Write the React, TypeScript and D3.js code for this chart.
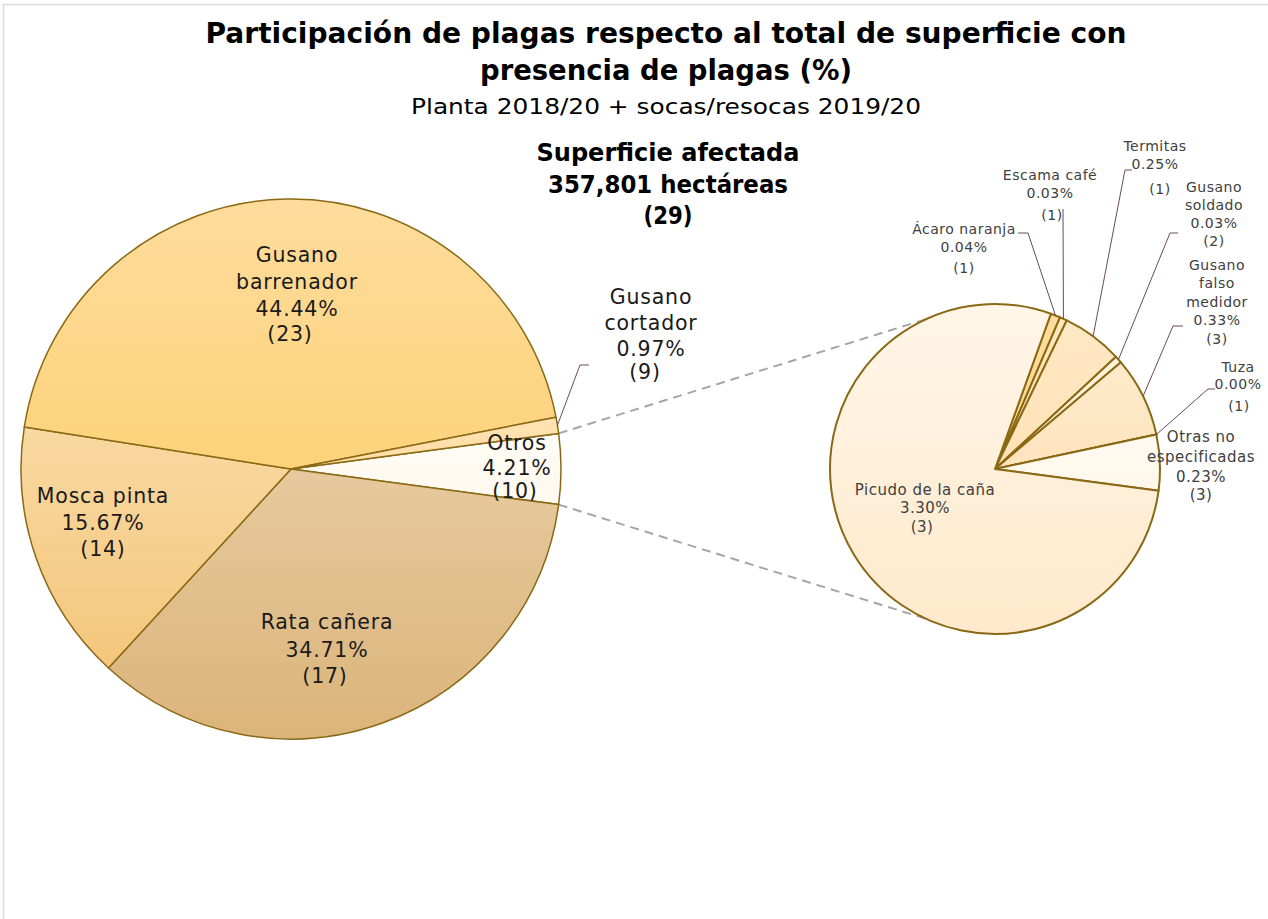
import * as d3 from "d3";

// main pie (clockwise, starting with the "Otros" slice centred on the right)
const mainLabels = ["Otros", "Rata cañera", "Mosca pinta", "Gusano barrenador", "Gusano cortador"];
const mainValues = [4.21, 34.71, 15.67, 44.44, 0.97];
const mainCounts = [10, 17, 14, 23, 9];

// secondary pie: breakdown of "Otros"
const subLabels = [
  "Ácaro naranja",
  "Escama café",
  "Termitas",
  "Gusano soldado",
  "Gusano falso medidor",
  "Tuza",
  "Otras no especificadas",
  "Picudo de la caña",
];
const subValues = [0.04, 0.03, 0.25, 0.03, 0.33, 0.0, 0.23, 3.3];
const subCounts = [1, 1, 1, 2, 3, 1, 3, 3];

const W = 1268;
const H = 919;
const FONT = "'DejaVu Sans', Verdana, sans-serif";
const STROKE = "#8a6914";

const main = { cx: 291, cy: 469, r: 270 };
const sub = { cx: 995, cy: 469, r: 165 };

// slice fills: [top, bottom] of a vertical gradient
const mainFills: Record<string, [string, string]> = {
  Otros: ["#fffdf7", "#fff9ee"],
  "Rata cañera": ["#e6c99d", "#dbb47a"],
  "Mosca pinta": ["#f9d9a2", "#f4c67b"],
  "Gusano barrenador": ["#fedc9c", "#fdd27a"],
  "Gusano cortador": ["#ffe3b3", "#ffdca3"],
};
const subFills: Record<string, [string, string]> = {
  "Ácaro naranja": ["#ffdc9d", "#ffd68f"],
  "Escama café": ["#ffe7bd", "#ffe2b0"],
  Termitas: ["#ffe8c4", "#ffe2b6"],
  "Gusano soldado": ["#fff3df", "#ffefd4"],
  "Gusano falso medidor": ["#feeacb", "#fee4bd"],
  Tuza: ["#fff0d8", "#fff0d8"],
  "Otras no especificadas": ["#fffaf1", "#fff7ea"],
  "Picudo de la caña": ["#fff6e8", "#ffe9cc"],
};

// label text layout
type LabelLayout = { x: number; ys: number[]; name: string[]; dx?: number[]; elbow?: [number, number]; tail?: number };
const mainLayout: Record<string, LabelLayout> = {
  "Gusano barrenador": { x: 297, ys: [255, 282, 309, 334], name: ["Gusano", "barrenador"], dx: [0, 0, 0, -7] },
  "Mosca pinta": { x: 103, ys: [496, 523, 549], name: ["Mosca pinta"] },
  "Rata cañera": { x: 327, ys: [622, 650, 676], name: ["Rata cañera"], dx: [0, 0, -2] },
  Otros: { x: 517, ys: [443, 468, 491], name: ["Otros"], dx: [0, 0, -2] },
  "Gusano cortador": { x: 651, ys: [297, 323, 349, 372], name: ["Gusano", "cortador"], dx: [0, 0, 0, -6], elbow: [580, 365], tail: 9 },
};
const subLayout: Record<string, LabelLayout> = {
  "Ácaro naranja": { x: 964, ys: [229, 247, 268], name: ["Ácaro naranja"], elbow: [1028, 233], tail: -10 },
  "Escama café": { x: 1050, ys: [175, 193, 215], name: ["Escama café"], dx: [0, 0, 2], elbow: [1063, 209], tail: 0 },
  Termitas: { x: 1155, ys: [146, 164, 189], name: ["Termitas"], dx: [0, 0, 5], elbow: [1125, 170], tail: 7 },
  "Gusano soldado": { x: 1214, ys: [187, 205, 223, 241], name: ["Gusano", "soldado"], elbow: [1170, 233], tail: 8 },
  "Gusano falso medidor": { x: 1217, ys: [265, 283, 302, 320, 339], name: ["Gusano", "falso", "medidor"], elbow: [1173, 326], tail: 10 },
  Tuza: { x: 1238, ys: [367, 384, 406], name: ["Tuza"], dx: [0, 0, 1], elbow: [1208, 389], tail: 7 },
  "Otras no especificadas": { x: 1201, ys: [437, 457, 477, 495], name: ["Otras no", "especificadas"] },
  "Picudo de la caña": { x: 925, ys: [490, 508, 527], name: ["Picudo de la caña"], dx: [0, 0, -3] },
};

const deg = Math.PI / 180;
const otrosShare = mainValues[0] / d3.sum(mainValues);
const mainStart = Math.PI / 2 - otrosShare * Math.PI;
const subStart = 19.8 * deg;

type Datum = { label: string; value: number; count: number };

const mainData: Datum[] = mainLabels.map((l, i) => ({ label: l, value: mainValues[i], count: mainCounts[i] }));
const subData: Datum[] = subLabels.map((l, i) => ({ label: l, value: subValues[i], count: subCounts[i] }));

const mainArcs = d3
  .pie<Datum>()
  .sort(null)
  .value((d) => d.value)
  .startAngle(mainStart)
  .endAngle(mainStart + 2 * Math.PI)(mainData);
const subArcs = d3
  .pie<Datum>()
  .sort(null)
  .value((d) => d.value)
  .startAngle(subStart)
  .endAngle(subStart + 2 * Math.PI)(subData);

const mainArc = d3.arc<d3.PieArcDatum<Datum>>().innerRadius(0).outerRadius(main.r);
const subArc = d3.arc<d3.PieArcDatum<Datum>>().innerRadius(0).outerRadius(sub.r);

const polar = (c: { cx: number; cy: number }, r: number, a: number): [number, number] => [
  c.cx + r * Math.sin(a),
  c.cy - r * Math.cos(a),
];

const slug = (s: string) => s.normalize("NFD").replace(/[^a-zA-Z]/g, "");

const Label = ({
  d,
  lay,
  size,
  spacing,
  color,
  center,
  radius,
}: {
  d: d3.PieArcDatum<Datum>;
  lay: LabelLayout;
  size: number;
  spacing: number;
  color: string;
  center: { cx: number; cy: number };
  radius: number;
}) => {
  const lines = [...lay.name, `${d.data.value.toFixed(2)}%`, `(${d.data.count})`];
  const mid = (d.startAngle + d.endAngle) / 2;
  let leader = null;
  if (lay.elbow) {
    const [sx, sy] = polar(center, radius, mid);
    const [ex, ey] = lay.elbow;
    const pts = `${sx},${sy} ${ex},${ey} ${ex + (lay.tail ?? 0)},${ey}`;
    leader = <polyline points={pts} fill="none" stroke="#6b4b5b" strokeWidth={1} />;
  }
  return (
    <g>
      {leader}
      {lines.map((t, i) => (
        <text
          key={i}
          x={lay.x + (lay.dx?.[i] ?? 0)}
          y={lay.ys[i]}
          textAnchor="middle"
          dominantBaseline="central"
          fontSize={size}
          letterSpacing={spacing}
          fill={color}
          fontFamily={FONT}
        >
          {t}
        </text>
      ))}
    </g>
  );
};

const App = () => {
  // connector lines between "Otros" and the secondary pie
  const otros = mainArcs[0];
  const c1 = polar(main, main.r, otros.startAngle);
  const c2 = polar(main, main.r, otros.endAngle);
  const t1 = polar(sub, sub.r, 335 * deg);
  const t2 = polar(sub, sub.r, 205 * deg);

  return (
    <div style={{ position: "absolute", left: 0, top: 0 }}>
      <svg width={W} height={H} style={{ display: "block", background: "#fff" }}>
        <defs>
          {[...Object.entries(mainFills), ...Object.entries(subFills)].map(([k, [a, b]], i) => (
            <linearGradient key={i} id={`g${i < 5 ? "m" : "s"}-${slug(k)}`} x1="0" y1="0" x2="0" y2="1">
              <stop offset="0" stopColor={a} />
              <stop offset="1" stopColor={b} />
            </linearGradient>
          ))}
        </defs>

        <rect x={3.5} y={4.5} width={W + 20} height={H + 20} fill="none" stroke="#d9d9d9" strokeWidth={1.5} />

        {/* titles */}
        <g fontFamily={FONT} textAnchor="middle" dominantBaseline="central">
          <text x={666} y={33} fontSize={28} fontWeight="bold" textLength={921} lengthAdjust="spacingAndGlyphs" fill="#000">
            Participación de plagas respecto al total de superficie con
          </text>
          <text x={666} y={70} fontSize={28} fontWeight="bold" textLength={372} lengthAdjust="spacingAndGlyphs" fill="#000">
            presencia de plagas (%)
          </text>
          <text x={666} y={106} fontSize={22} textLength={510} lengthAdjust="spacingAndGlyphs" fill="#000">
            Planta 2018/20 + socas/resocas 2019/20
          </text>
          <text x={668} y={153} fontSize={24} fontWeight="bold" textLength={263} lengthAdjust="spacingAndGlyphs" fill="#000">
            Superficie afectada
          </text>
          <text x={668} y={185} fontSize={24} fontWeight="bold" textLength={240} lengthAdjust="spacingAndGlyphs" fill="#000">
            357,801 hectáreas
          </text>
          <text x={668} y={216} fontSize={24} fontWeight="bold" textLength={49} lengthAdjust="spacingAndGlyphs" fill="#000">
            (29)
          </text>
        </g>

        {/* connectors */}
        <line x1={c1[0]} y1={c1[1]} x2={t1[0]} y2={t1[1]} stroke="#a6a6a6" strokeWidth={2} strokeDasharray="9,6" />
        <line x1={c2[0]} y1={c2[1]} x2={t2[0]} y2={t2[1]} stroke="#a6a6a6" strokeWidth={2} strokeDasharray="9,6" />

        {/* main pie */}
        <g transform={`translate(${main.cx},${main.cy})`}>
          {mainArcs.map((a, i) => (
            <path
              key={i}
              d={mainArc(a) ?? ""}
              fill={`url(#gm-${slug(a.data.label)})`}
              stroke={STROKE}
              strokeWidth={1.5}
              strokeLinejoin="round"
            />
          ))}
        </g>

        {/* secondary pie */}
        <g transform={`translate(${sub.cx},${sub.cy})`}>
          {subArcs.map((a, i) => (
            <path
              key={i}
              d={subArc(a) ?? ""}
              fill={`url(#gs-${slug(a.data.label)})`}
              stroke={STROKE}
              strokeWidth={2}
              strokeLinejoin="round"
            />
          ))}
        </g>

        {mainArcs.map((a, i) => (
          <Label
            key={i}
            d={a}
            lay={mainLayout[a.data.label]}
            size={20.5}
            spacing={0.8}
            color="#1a1a1a"
            center={main}
            radius={main.r}
          />
        ))}
        {subArcs.map((a, i) => {
          const big = a.data.label === "Picudo de la caña" || a.data.label === "Otras no especificadas";
          return (
            <Label
              key={i}
              d={a}
              lay={subLayout[a.data.label]}
              size={big ? 15 : 14}
              spacing={0.5}
              color="#404040"
              center={sub}
              radius={sub.r}
            />
          );
        })}
      </svg>
    </div>
  );
};

export default App;
